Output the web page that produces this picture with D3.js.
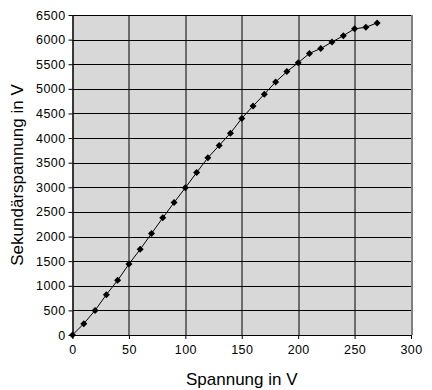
<!DOCTYPE html>
<html>
<head>
<meta charset="utf-8">
<script src="https://cdn.jsdelivr.net/npm/d3@7"></script>
<style>
  body { margin: 0; background: #fff; }
  svg { display: block; font-family: "Liberation Sans", Arial, sans-serif; }
</style>
</head>
<body>
<svg id="chart" width="432" height="390"></svg>
<script>
// Primärspannung (V) und gemessene Sekundärspannung (V)
const spannung = [0, 10, 20, 30, 40, 50, 60, 70, 80, 90, 100, 110, 120, 130,
  140, 150, 160, 170, 180, 190, 200, 210, 220, 230, 240, 250, 260, 270];
const sekundaer = [0, 230, 500, 820, 1110, 1440, 1740, 2060, 2380, 2690, 2990,
  3300, 3600, 3850, 4100, 4400, 4650, 4890, 5140, 5350, 5530, 5720, 5820,
  5950, 6080, 6220, 6250, 6340];
const xTicks = [0, 50, 100, 150, 200, 250, 300];
const yTicks = d3.range(0, 6501, 500);

const svg = d3.select('#chart');
const margin = { left: 72.5, right: 21, top: 15, bottom: 55 };
const width = 432 - margin.left - margin.right;
const height = 390 - margin.top - margin.bottom;

const x = d3.scaleLinear().domain([0, 300]).range([0, width]);
const y = d3.scaleLinear().domain([0, 6500]).range([height, 0]);

const g = svg.append('g')
  .attr('transform', `translate(${margin.left},${margin.top})`);

g.append('rect')
  .attr('width', width)
  .attr('height', height)
  .attr('fill', '#d8d8d8');

// grid
g.append('g')
  .selectAll('line')
  .data(yTicks)
  .join('line')
  .attr('x1', 0).attr('x2', width)
  .attr('y1', d => Math.round(y(d)) + 0.5)
  .attr('y2', d => Math.round(y(d)) + 0.5)
  .attr('stroke', '#000');

g.append('g')
  .selectAll('line')
  .data(xTicks)
  .join('line')
  .attr('y1', 0).attr('y2', height)
  .attr('x1', d => Math.round(x(d)) + 0.5)
  .attr('x2', d => Math.round(x(d)) + 0.5)
  .attr('stroke', '#000');

// axes
const xAxis = g.append('g')
  .attr('transform', `translate(0,${height})`)
  .call(d3.axisBottom(x).tickValues(xTicks).tickFormat(d3.format('d'))
    .tickSize(4).tickPadding(6).tickSizeOuter(0));
const yAxis = g.append('g')
  .call(d3.axisLeft(y).tickValues(yTicks).tickFormat(d3.format('d'))
    .tickSize(4).tickPadding(3).tickSizeOuter(0));

[xAxis, yAxis].forEach(a => {
  a.selectAll('text').attr('font-size', 12.5).attr('fill', '#000')
    .attr('letter-spacing', 0.4)
    .attr('font-family', '"Liberation Sans", Arial, sans-serif');
  a.selectAll('line').attr('stroke', '#000');
  a.select('.domain').attr('stroke', '#000');
});

// line + markers
const pts = spannung.map((v, i) => [v, sekundaer[i]]);
g.append('path')
  .datum(pts)
  .attr('fill', 'none')
  .attr('stroke', '#000')
  .attr('stroke-width', 1)
  .attr('d', d3.line().x(d => x(d[0])).y(d => y(d[1])));

g.append('g')
  .selectAll('path')
  .data(pts)
  .join('path')
  .attr('transform', d => `translate(${x(d[0])},${y(d[1])})`)
  .attr('d', 'M0,-3.5L3.5,0L0,3.5L-3.5,0Z')
  .attr('fill', '#000');

// titles
svg.append('text')
  .attr('x', margin.left + width / 2)
  .attr('y', 385)
  .attr('text-anchor', 'middle')
  .attr('font-size', 17)
  .text('Spannung in V');

svg.append('text')
  .attr('transform', `translate(23,${margin.top + height / 2}) rotate(-90)`)
  .attr('text-anchor', 'middle')
  .attr('font-size', 17)
  .text('Sekundärspannung in V');
</script>
</body>
</html>
